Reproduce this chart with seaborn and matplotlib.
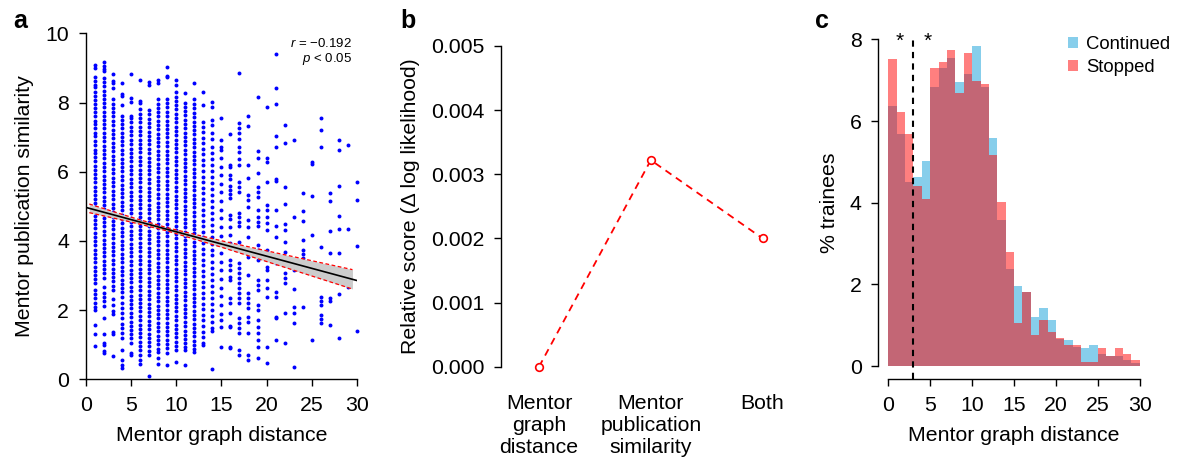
import numpy as np
import pandas as pd
import seaborn as sns
import matplotlib
matplotlib.use("Agg")
import matplotlib.pyplot as plt
from matplotlib.patches import Patch


# ==========================
# Data - panel a (similarity vs graph distance, one list per distance)
# ==========================

sim_at_1 = [9.08, 9.01, 8.74, 8.63, 8.51, 8.44, 8.31, 8.19, 8.08, 7.96, 7.84, 7.73, 7.61, 7.48, 7.37, 7.25,
            7.13, 7.02, 6.9, 6.77, 6.64, 6.55, 6.42, 6.3, 6.17, 6.05, 5.93, 5.81, 5.7, 5.57, 5.45, 5.33,
            5.21, 5.1, 4.97, 4.85, 4.73, 4.6, 4.49, 4.37, 4.24, 4.12, 3.99, 3.87, 3.75, 3.62, 3.5, 3.38,
            3.25, 3.13, 3.01, 2.89, 2.78, 2.58, 2.47, 2.35, 2.22, 2.1, 2.01, 1.56, 1.3, 0.95]
sim_at_2 = [9.16, 9.05, 8.98, 8.9, 8.72, 8.6, 8.47, 8.34, 8.22, 8.11, 7.98, 7.86, 7.74, 7.62, 7.5, 7.37,
            7.25, 7.13, 7.01, 6.88, 6.75, 6.63, 6.51, 6.39, 6.26, 6.13, 6.02, 5.89, 5.77, 5.64, 5.52, 5.4,
            5.28, 5.15, 5.03, 4.91, 4.78, 4.66, 4.54, 4.42, 4.3, 4.17, 4.04, 3.92, 3.8, 3.68, 3.55, 3.43,
            3.31, 3.18, 3.06, 2.94, 2.68, 2.5, 2.37, 2.25, 2.11, 1.77, 1.3, 1.06, 0.98, 0.81, 0.75]
sim_at_3 = [8.81, 8.62, 8.55, 8.42, 8.1, 7.97, 7.85, 7.73, 7.6, 7.47, 7.35, 7.22, 7.1, 6.97, 6.84, 6.71,
            6.59, 6.46, 6.33, 6.21, 6.08, 5.95, 5.83, 5.7, 5.58, 5.45, 5.33, 5.2, 5.08, 4.95, 4.83, 4.7,
            4.58, 4.45, 4.33, 4.21, 4.08, 3.95, 3.83, 3.7, 3.58, 3.45, 3.33, 3.2, 3.08, 2.96, 2.83, 2.71,
            2.58, 2.31, 2.15, 1.97, 1.9, 1.36, 1.31, 0.66]
sim_at_4 = [8.56, 8.26, 8.2, 7.92, 7.62, 7.5, 7.38, 7.26, 7.13, 7.01, 6.88, 6.76, 6.63, 6.51, 6.38, 6.26,
            6.13, 6.01, 5.88, 5.76, 5.63, 5.51, 5.38, 5.26, 5.13, 5.01, 4.88, 4.76, 4.63, 4.51, 4.38, 4.26,
            4.13, 4.01, 3.88, 3.76, 3.63, 3.51, 3.38, 3.26, 3.13, 3.01, 2.88, 2.76, 2.63, 2.51, 2.38, 2.21,
            2.06, 1.92, 1.76, 1.61, 1.49, 1.35, 1.2, 0.86, 0.55, 0.41, 0.33]
sim_at_5 = [8.81, 8.12, 8.02, 7.62, 7.55, 7.43, 7.3, 7.18, 7.05, 6.92, 6.8, 6.67, 6.55, 6.42, 6.3, 6.17,
            6.05, 5.92, 5.8, 5.67, 5.55, 5.42, 5.3, 5.17, 5.05, 4.92, 4.8, 4.67, 4.55, 4.42, 4.3, 4.17,
            4.05, 3.92, 3.8, 3.67, 3.55, 3.42, 3.3, 3.17, 3.05, 2.92, 2.8, 2.67, 2.55, 2.42, 2.3, 2.17,
            2.05, 1.92, 1.8, 1.67, 1.55, 1.42, 1.3, 1.2, 1.05, 0.76, 0.7]
sim_at_6 = [8.66, 8.05, 7.99, 7.8, 7.68, 7.55, 7.43, 7.3, 7.18, 7.06, 6.93, 6.81, 6.68, 6.56, 6.43, 6.31,
            6.19, 6.06, 5.94, 5.81, 5.69, 5.56, 5.44, 5.31, 5.19, 5.07, 4.94, 4.82, 4.69, 4.57, 4.44, 4.32,
            4.2, 4.07, 3.95, 3.82, 3.7, 3.57, 3.45, 3.32, 3.2, 3.08, 2.95, 2.83, 2.7, 2.58, 2.45, 2.33,
            2.21, 2.08, 1.96, 1.83, 1.71, 1.58, 1.46, 1.33, 1.21, 1.09, 0.96, 0.84, 0.71, 0.55, 0.45]
sim_at_7 = [8.6, 8.52, 7.78, 7.66, 7.53, 7.41, 7.28, 7.16, 7.04, 6.91, 6.79, 6.66, 6.54, 6.41, 6.29, 6.17,
            6.04, 5.92, 5.79, 5.67, 5.54, 5.42, 5.3, 5.17, 5.05, 4.92, 4.8, 4.67, 4.55, 4.43, 4.3, 4.18,
            4.05, 3.93, 3.8, 3.68, 3.56, 3.43, 3.31, 3.18, 3.06, 2.93, 2.81, 2.69, 2.56, 2.44, 2.31, 2.19,
            2.06, 1.94, 1.82, 1.69, 1.57, 1.44, 1.32, 1.19, 1.07, 0.95, 0.82, 0.7, 0.1]
sim_at_8 = [8.66, 8.55, 8.1, 7.97, 7.85, 7.72, 7.6, 7.48, 7.35, 7.23, 7.1, 6.98, 6.85, 6.73, 6.61, 6.48,
            6.36, 6.23, 6.11, 5.98, 5.86, 5.74, 5.61, 5.49, 5.36, 5.24, 5.11, 4.99, 4.87, 4.74, 4.62, 4.49,
            4.37, 4.24, 4.12, 4.0, 3.87, 3.75, 3.62, 3.5, 3.37, 3.25, 3.13, 3.0, 2.88, 2.75, 2.63, 2.5,
            2.38, 2.26, 2.13, 2.01, 1.88, 1.76, 1.63, 1.51, 1.39, 1.26, 1.14, 1.01, 0.89, 0.8, 0.62, 0.45]
sim_at_9 = [9.02, 8.78, 8.74, 8.1, 7.98, 7.86, 7.73, 7.61, 7.48, 7.36, 7.23, 7.11, 6.99, 6.86, 6.74, 6.61,
            6.49, 6.36, 6.24, 6.12, 5.99, 5.87, 5.74, 5.62, 5.49, 5.37, 5.25, 5.12, 5.0, 4.87, 4.75, 4.62,
            4.5, 4.38, 4.25, 4.13, 4.0, 3.88, 3.75, 3.63, 3.51, 3.38, 3.26, 3.13, 3.01, 2.88, 2.76, 2.64,
            2.51, 2.39, 2.26, 2.14, 2.01, 1.89, 1.77, 1.64, 1.52, 1.39, 1.27, 1.14, 1.02, 0.9, 0.77, 0.41]
sim_at_10 = [8.64, 8.52, 8.3, 8.17, 8.05, 7.92, 7.8, 7.67, 7.55, 7.43, 7.3, 7.18, 7.05, 6.93, 6.8, 6.68,
             6.56, 6.43, 6.31, 6.18, 6.06, 5.93, 5.81, 5.69, 5.56, 5.44, 5.31, 5.19, 5.06, 4.94, 4.82, 4.69,
             4.57, 4.44, 4.32, 4.19, 4.07, 3.95, 3.82, 3.7, 3.57, 3.45, 3.32, 3.2, 3.08, 2.95, 2.83, 2.7,
             2.58, 2.45, 2.33, 2.21, 2.08, 1.96, 1.83, 1.71, 1.58, 1.46, 1.34, 1.21, 1.09, 0.96, 0.84, 0.51]
sim_at_11 = [8.27, 8.0, 7.88, 7.75, 7.63, 7.5, 7.38, 7.25, 7.13, 7.01, 6.88, 6.76, 6.63, 6.51, 6.38, 6.26,
             6.14, 6.01, 5.89, 5.76, 5.64, 5.51, 5.39, 5.27, 5.14, 5.02, 4.89, 4.77, 4.64, 4.52, 4.4, 4.27,
             4.15, 4.02, 3.9, 3.77, 3.65, 3.53, 3.4, 3.28, 3.15, 3.03, 2.9, 2.78, 2.66, 2.53, 2.41, 2.28,
             2.16, 2.03, 1.91, 1.79, 1.66, 1.54, 1.41, 1.29, 1.16, 1.04, 0.92, 0.85, 0.42]
sim_at_12 = [8.55, 8.1, 7.95, 7.83, 7.7, 7.58, 7.45, 7.33, 7.2, 7.08, 6.96, 6.83, 6.71, 6.58, 6.46, 6.33,
             6.21, 6.09, 5.96, 5.84, 5.71, 5.59, 5.46, 5.34, 5.22, 5.09, 4.97, 4.84, 4.72, 4.59, 4.47, 4.35,
             4.22, 4.1, 3.97, 3.85, 3.72, 3.6, 3.48, 3.35, 3.23, 3.1, 2.98, 2.85, 2.73, 2.61, 2.48, 2.36,
             2.23, 2.11, 1.98, 1.86, 1.74, 1.61, 1.49, 1.36, 1.24, 1.11, 0.99, 0.87, 0.78]
sim_at_13 = [8.29, 7.93, 7.45, 7.3, 7.14, 6.98, 6.82, 6.66, 6.5, 6.34, 6.18, 6.02, 5.86, 5.7, 5.54, 5.38,
             5.22, 5.06, 4.9, 4.74, 4.58, 4.42, 4.26, 4.1, 3.94, 3.78, 3.62, 3.46, 3.3, 3.14, 2.98, 2.82,
             2.66, 2.5, 2.34, 2.18, 2.02, 1.86, 1.7, 1.54, 1.38, 1.22, 1.06, 0.98]
sim_at_14 = [8.02, 7.87, 7.49, 7.35, 7.12, 6.95, 6.72, 6.55, 6.38, 6.2, 6.02, 5.85, 5.68, 5.5, 5.32, 5.15,
             4.98, 4.8, 4.62, 4.45, 4.28, 4.1, 3.92, 3.75, 3.58, 3.4, 3.22, 3.05, 2.88, 2.7, 2.52, 2.35,
             2.18, 2.0, 1.82, 1.65, 1.48, 1.4, 0.31]
sim_at_15 = [7.54, 6.92, 6.7, 6.63, 6.4, 6.15, 5.9, 5.65, 5.4, 5.15, 4.9, 4.65, 4.4, 4.15, 3.9, 3.65,
             3.4, 3.15, 2.9, 2.65, 2.4, 2.15, 1.9, 1.7, 1.5, 0.92]
sim_at_16 = [7.08, 6.19, 6.15, 5.9, 5.8, 5.59, 5.47, 5.35, 5.23, 4.75, 4.62, 4.4, 4.17, 3.93, 3.45, 3.3,
             3.16, 2.95, 2.87, 2.34, 2.2, 1.91, 1.55, 1.5, 0.94, 0.9]
sim_at_17 = [8.86, 7.4, 7.25, 7.11, 6.96, 6.72, 6.57, 6.38, 6.19, 5.71, 5.57, 5.42, 4.8, 4.7, 4.56, 4.42,
             3.98, 3.35, 3.21, 3.07, 2.92, 2.77, 2.63, 2.49, 2.34, 2.2, 1.77, 1.62, 1.48, 1.34, 0.85, 0.71]
sim_at_18 = [7.61, 7.32, 6.19, 5.83, 5.33, 5.18, 4.99, 4.6, 4.41, 4.12, 3.54, 3.01, 2.49, 2.34, 2.2, 2.05,
             1.81, 1.67, 1.34, 0.71, 0.56]
sim_at_19 = [8.17, 6.61, 6.41, 5.96, 5.57, 5.42, 5.28, 4.9, 4.7, 4.56, 4.42, 3.88, 3.74, 3.45, 2.87, 2.73,
             2.58, 2.15, 2.01, 1.72, 1.52, 1.34, 1.14, 0.94, 0.61]
sim_at_20 = [7.88, 6.39, 6.29, 5.71, 5.04, 4.9, 4.7, 4.51, 4.32, 3.74, 3.26, 3.16, 2.87, 2.63, 2.39, 0.94,
             0.46]
sim_at_21 = [9.4, 8.41, 7.97, 7.03, 6.72, 5.8, 5.74, 4.9, 4.43, 4.1, 3.35, 2.53, 2.39, 1.81, 1.76, 1.14]
sim_at_22 = [7.35, 6.82, 5.57, 5.06, 4.49, 4.32, 3.98, 3.69, 3.31, 3.07, 2.92, 2.77, 1.91, 1.04]
sim_at_23 = [6.92, 4.7, 3.35, 3.26, 3.16, 2.6, 2.1, 1.91, 1.62, 0.37]
sim_at_24 = [5.38, 4.86, 4.59, 4.04, 3.74, 3.63, 3.5, 2.1]
sim_at_25 = [6.29, 6.22, 5.3, 4.17, 3.31, 1.14]
sim_at_26 = [7.54, 7.21, 6.72, 3.83, 2.39, 2.27, 2.15, 1.86, 1.74, 1.62]
sim_at_27 = [5.38, 5.14, 4.28, 3.64, 2.34, 2.25, 1.57]
sim_at_28 = [6.92, 6.63, 5.59, 4.73, 4.33, 3.64, 2.47, 1.19]
sim_at_29 = [6.77, 4.33, 2.92, 2.77, 2.68]
sim_at_30 = [5.7, 5.17, 3.84, 1.41]

# Linear fit, with 95% band half-widths
fit_intercept = 4.97
fit_slope = -0.0705
band_x = [0.4, 5, 9, 15, 20, 25, 29.5]
band_half = [0.125, 0.071, 0.047, 0.093, 0.155, 0.221, 0.28]
r_text = "$r$ = \u22120.192"
p_text = "$p$ < 0.05"

# ==========================
# Data - panel b
# ==========================
model_names = ["Mentor\ngraph\ndistance", "Mentor\npublication\nsimilarity", "Both"]
model_scores = [0.0, 0.00322, 0.00200]

# ==========================
# Data - panel c (% trainees per unit bin of distance 0..30)
# ==========================
bin_edges = list(range(0, 31))
continued_pct = [6.37, 5.68, 4.50, 4.64, 5.03, 6.84, 7.29, 7.54, 6.96, 7.15, 7.84, 6.84, 5.59, 3.58, 2.39,
                 1.97, 1.82, 1.21, 1.43, 1.14, 0.66, 0.65, 0.46, 0.45, 0.53, 0.30, 0.24, 0.24, 0.16, 0.08]
stopped_pct = [7.51, 6.22, 5.69, 4.42, 4.10, 7.29, 7.44, 7.74, 6.69, 7.67, 6.98, 6.90, 5.17, 4.02, 2.79,
               1.07, 1.82, 0.76, 1.14, 0.84, 0.68, 0.53, 0.53, 0.10, 0.10, 0.45, 0.24, 0.45, 0.30, 0.16]
cutoff = 3
star_x = [1.4, 4.7]


# ==========================
# Style
# ==========================
sns.set_style("ticks")
plt.rcParams["font.family"] = ["Liberation Sans", "DejaVu Sans"]
plt.rcParams["mathtext.fontset"] = "custom"
plt.rcParams["mathtext.rm"] = "Liberation Sans"
plt.rcParams["mathtext.it"] = "Liberation Sans:italic"
plt.rcParams["axes.linewidth"] = 1.0
plt.rcParams["axes.edgecolor"] = "black"
plt.rcParams["axes.labelcolor"] = "black"
plt.rcParams["text.color"] = "black"
plt.rcParams["xtick.color"] = "black"
plt.rcParams["ytick.color"] = "black"
plt.rcParams["xtick.major.width"] = 1.0
plt.rcParams["ytick.major.width"] = 1.0

FS = 15.3

fig = plt.figure(figsize=(11.77, 4.68), dpi=100)


def style_ticks(ax):
    ax.tick_params(direction="out", length=5, labelsize=FS, pad=7, colors="black")


# ==========================
# Panel a
# ==========================
sim_columns = [sim_at_1, sim_at_2, sim_at_3, sim_at_4, sim_at_5, sim_at_6, sim_at_7, sim_at_8,
               sim_at_9, sim_at_10, sim_at_11, sim_at_12, sim_at_13, sim_at_14, sim_at_15,
               sim_at_16, sim_at_17, sim_at_18, sim_at_19, sim_at_20, sim_at_21, sim_at_22,
               sim_at_23, sim_at_24, sim_at_25, sim_at_26, sim_at_27, sim_at_28, sim_at_29, sim_at_30]

rows = []
for i, col in enumerate(sim_columns):
    for v in col:
        rows.append((i + 1, v))
df_a = pd.DataFrame(rows, columns=["distance", "similarity"])

ax_a = fig.add_axes([0.0728, 0.1895, 0.2305, 0.7393])
sns.scatterplot(
    data=df_a,
    x="distance",
    y="similarity",
    s=8,
    color="#0000FF",
    linewidth=0,
    legend=False,
    clip_on=False,
    ax=ax_a
)

bx = np.array(band_x)
bh = np.array(band_half)
fit_mid = fit_intercept + fit_slope * bx
ax_a.fill_between(bx, fit_mid - bh, fit_mid + bh, color="#CCCCCC", lw=0, zorder=3)
ax_a.plot(bx, fit_mid + bh, color="red", lw=0.9, ls="--", dashes=(3, 2), zorder=4)
ax_a.plot(bx, fit_mid - bh, color="red", lw=0.9, ls="--", dashes=(3, 2), zorder=4)
ax_a.axline((0, fit_intercept), slope=fit_slope, color="black", lw=1.2, zorder=5)

ax_a.text(0.982, 0.971, r_text, transform=ax_a.transAxes, ha="right", va="center", fontsize=9.5)
ax_a.text(0.982, 0.926, p_text, transform=ax_a.transAxes, ha="right", va="center", fontsize=9.5)

ax_a.set_xlim(0, 30)
ax_a.set_ylim(0, 10)
ax_a.set_xticks(range(0, 31, 5))
ax_a.set_yticks(range(0, 11, 2))
ax_a.set_xlabel("Mentor graph distance", fontsize=FS, labelpad=8)
ax_a.set_ylabel("Mentor publication similarity", fontsize=FS, labelpad=8)
style_ticks(ax_a)
sns.despine(ax=ax_a)


# ==========================
# Panel b
# ==========================
positions = np.arange(1, len(model_names) + 1)

ax_b = fig.add_axes([0.4257, 0.2165, 0.2583, 0.6853])
sns.lineplot(
    x=positions,
    y=model_scores,
    color="red",
    lw=1.3,
    ls="--",
    marker="o",
    markersize=5.5,
    markerfacecolor="white",
    markeredgecolor="red",
    markeredgewidth=1.2,
    clip_on=False,
    ax=ax_b
)
ax_b.lines[0].set_dashes([4, 3])

ax_b.set_xlim(0.66, 3.38)
ax_b.set_ylim(0, 0.005)
ax_b.set_yticks(np.arange(0, 0.0051, 0.001))
ax_b.set_yticklabels([f"{t:.3f}" for t in np.arange(0, 0.0051, 0.001)])
ax_b.set_xticks(positions)
ax_b.set_xticklabels(model_names)
ax_b.set_ylabel("Relative score (\u0394 log likelihood)", fontsize=FS, labelpad=8)
style_ticks(ax_b)
ax_b.tick_params(axis="x", length=0, pad=20)
sns.despine(ax=ax_b, bottom=True)


# ==========================
# Panel c
# ==========================
bin_mid = np.array(bin_edges[:-1]) + 0.5

ax_c = fig.add_axes([0.7462, 0.1895, 0.2307, 0.7545])
sns.histplot(
    x=bin_mid,
    weights=continued_pct,
    bins=bin_edges,
    color="skyblue",
    alpha=1,
    linewidth=0,
    ax=ax_c
)
sns.histplot(
    x=bin_mid,
    weights=stopped_pct,
    bins=bin_edges,
    color="red",
    alpha=0.5,
    linewidth=0,
    ax=ax_c
)

ax_c.set_xlim(-1.2, 31.2)
ax_c.set_ylim(-0.32, 8.32)
ax_c.axvline(cutoff, ymin=0, ymax=(8.08 + 0.32) / 8.64, color="black", lw=1.5, ls="--", dashes=(3, 2.5))
for sx in star_x:
    ax_c.text(sx, 7.95, "*", ha="center", va="center", fontsize=15)

ax_c.set_xticks(range(0, 31, 5))
ax_c.set_yticks(range(0, 9, 2))
ax_c.set_xlabel("Mentor graph distance", fontsize=FS, labelpad=8)
ax_c.set_ylabel("% trainees", fontsize=FS, labelpad=8)
style_ticks(ax_c)
sns.despine(ax=ax_c)
ax_c.spines["left"].set_bounds(0, 8)
ax_c.spines["bottom"].set_bounds(0, 30)

handles = [Patch(facecolor="skyblue", edgecolor="none"),
           Patch(facecolor="red", alpha=0.5, edgecolor="none")]
fig.legend(
    handles,
    ["Continued", "Stopped"],
    loc="upper left",
    bbox_to_anchor=(1068 / 1177, 1 - 36 / 468),
    frameon=False,
    fontsize=13.3,
    handlelength=0.55,
    handleheight=0.55,
    handletextpad=0.45,
    labelspacing=0.35,
    borderpad=0,
    borderaxespad=0
)


# Panel letters
fig.text(13 / 1177, 1 - 28 / 468, "a", fontsize=18, fontweight="bold", va="baseline")
fig.text(400 / 1177, 1 - 28 / 468, "b", fontsize=18, fontweight="bold", va="baseline")
fig.text(815 / 1177, 1 - 28 / 468, "c", fontsize=18, fontweight="bold", va="baseline")

fig.savefig("out.png", dpi=100)
